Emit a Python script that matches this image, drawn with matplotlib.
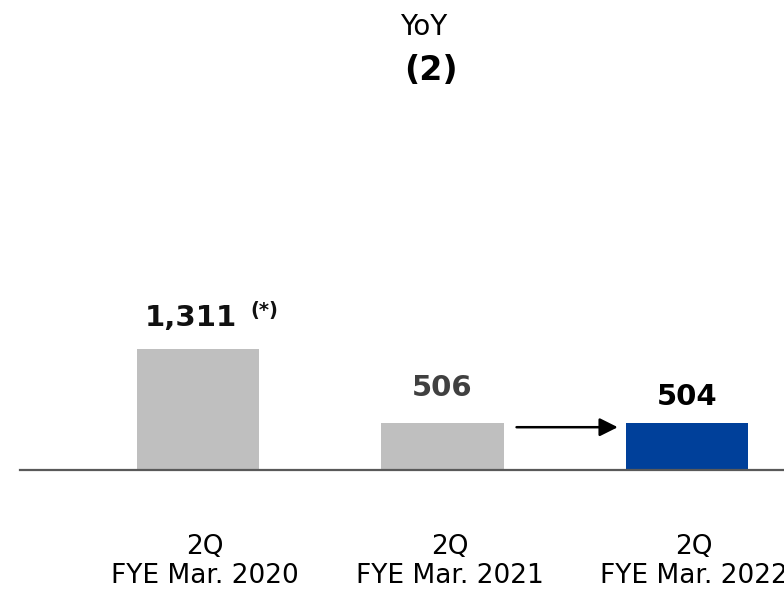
import matplotlib.pyplot as plt
from matplotlib.transforms import blended_transform_factory

periods = ["FYE Mar. 2020", "FYE Mar. 2021", "FYE Mar. 2022"]
quarter = "2Q"
values = [1311, 506, 504]
value_labels = ["1,311", "506", "504"]
bar_colors = ["#BFBFBF", "#BFBFBF", "#00409A"]
label_colors = ["#111111", "#404040", "#000000"]
label_offsets = [16.5, 20, 13]  # points above bar top

fig = plt.figure(figsize=(7.84, 5.90), dpi=100)
ax = fig.add_axes([0, 0, 1, 1])
ax.axis("off")

x = list(range(len(values)))
width = 0.5
ax.bar(x, values, width=width, color=bar_colors, zorder=2)
ax.set_xlim(-0.81, 2.397)
ax.set_ylim(-1300, 5092)

# baseline
ax.axhline(0, xmin=20 / 784, xmax=1, color="#595959", lw=1.6, zorder=3)

# value labels
for i, (v, lab) in enumerate(zip(values, value_labels)):
    dx = -5 if i == 0 else 0
    ax.annotate(lab, (x[i], v), xytext=(dx, label_offsets[i]),
                textcoords="offset points", ha="center", va="baseline",
                fontsize=21, fontweight="bold", color=label_colors[i])
ax.annotate("(*)", (x[0], values[0]), xytext=(38, 23.5),
            textcoords="offset points", ha="left", va="baseline",
            fontsize=14, fontweight="bold", color="#111111")

# arrow between the last two bars
ay = values[2] * 0.92
ax.annotate("", xy=(x[2] - width / 2 - 0.033, ay),
            xytext=(x[1] + width / 2 + 0.053, ay),
            arrowprops=dict(arrowstyle="-|>,head_length=1.1,head_width=0.55",
                            mutation_scale=10, lw=1.8, color="black",
                            shrinkA=0, shrinkB=0))

# category labels under the baseline
trans = blended_transform_factory(ax.transData, ax.transAxes)
for i, p in enumerate(periods):
    ax.text(x[i] + 0.03, 36 / 590, quarter, transform=trans, ha="center",
            va="baseline", fontsize=19, color="black")
    ax.text(x[i] + 0.03, 7 / 590, p, transform=trans, ha="center",
            va="baseline", fontsize=19, color="black")

fig.text(0.541, 0.9407, "YoY", ha="center", va="baseline", fontsize=20)
fig.text(0.55, 0.8644, "(2)", ha="center", va="baseline", fontsize=24,
         fontweight="bold")

fig.savefig("out.png", dpi=100)
